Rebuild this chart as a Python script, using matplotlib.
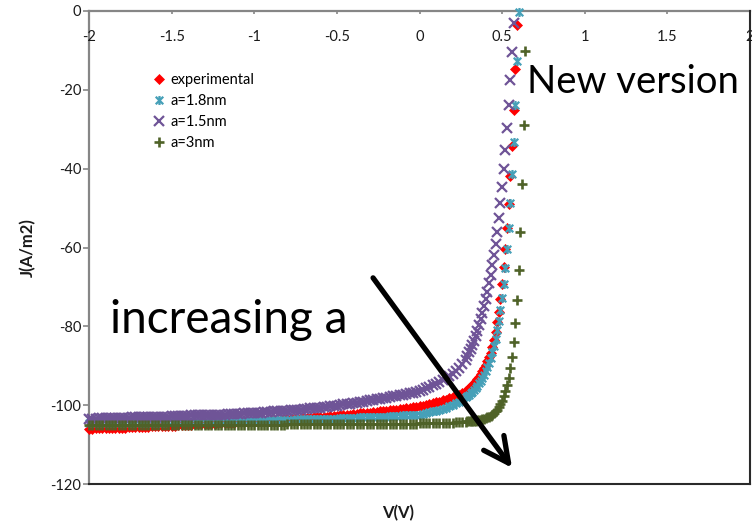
import matplotlib
matplotlib.use("Agg")
import matplotlib.pyplot as plt
from matplotlib.path import Path

plt.rcParams["font.family"] = ["Lato", "DejaVu Sans"]
plt.rcParams["axes.unicode_minus"] = False

# ---------------------------------------------------------------- data
# Reverse/forward sweep, -2.00 V to 0.28 V in 0.02 V steps
V_SWEEP = [
    -2.00, -1.98, -1.96, -1.94, -1.92, -1.90, -1.88, -1.86, -1.84, -1.82,
    -1.80, -1.78, -1.76, -1.74, -1.72, -1.70, -1.68, -1.66, -1.64, -1.62,
    -1.60, -1.58, -1.56, -1.54, -1.52, -1.50, -1.48, -1.46, -1.44, -1.42,
    -1.40, -1.38, -1.36, -1.34, -1.32, -1.30, -1.28, -1.26, -1.24, -1.22,
    -1.20, -1.18, -1.16, -1.14, -1.12, -1.10, -1.08, -1.06, -1.04, -1.02,
    -1.00, -0.98, -0.96, -0.94, -0.92, -0.90, -0.88, -0.86, -0.84, -0.82,
    -0.80, -0.78, -0.76, -0.74, -0.72, -0.70, -0.68, -0.66, -0.64, -0.62,
    -0.60, -0.58, -0.56, -0.54, -0.52, -0.50, -0.48, -0.46, -0.44, -0.42,
    -0.40, -0.38, -0.36, -0.34, -0.32, -0.30, -0.28, -0.26, -0.24, -0.22,
    -0.20, -0.18, -0.16, -0.14, -0.12, -0.10, -0.08, -0.06, -0.04, -0.02,
    0.00, 0.02, 0.04, 0.06, 0.08, 0.10, 0.12, 0.14, 0.16, 0.18,
    0.20, 0.22, 0.24, 0.26, 0.28,
]
# Finer 0.01 V steps through the knee towards open circuit
V_KNEE = [
    0.29, 0.30, 0.31, 0.32, 0.33, 0.34, 0.35, 0.36, 0.37, 0.38,
    0.39, 0.40, 0.41, 0.42, 0.43, 0.44, 0.45, 0.46, 0.47, 0.48,
    0.49, 0.50, 0.51, 0.52, 0.53, 0.54, 0.55, 0.56, 0.57, 0.58,
    0.59, 0.60, 0.61, 0.62, 0.63, 0.64,
]

# Current density J (A/m2), experimental
J_EXP_SWEEP = [
    -106.0, -106.0, -105.9, -105.9, -105.9, -105.8, -105.8, -105.8, -105.8, -105.7,
    -105.7, -105.7, -105.6, -105.6, -105.6, -105.5, -105.5, -105.5, -105.5, -105.4,
    -105.4, -105.4, -105.3, -105.3, -105.2, -105.2, -105.2, -105.1, -105.1, -105.0,
    -105.0, -105.0, -104.9, -104.9, -104.8, -104.8, -104.8, -104.7, -104.7, -104.6,
    -104.6, -104.5, -104.5, -104.4, -104.4, -104.3, -104.3, -104.2, -104.2, -104.1,
    -104.1, -104.0, -104.0, -103.9, -103.9, -103.8, -103.8, -103.7, -103.7, -103.6,
    -103.6, -103.5, -103.5, -103.4, -103.3, -103.3, -103.2, -103.2, -103.1, -103.1,
    -103.0, -102.9, -102.9, -102.8, -102.7, -102.7, -102.6, -102.5, -102.4, -102.4,
    -102.3, -102.2, -102.1, -102.0, -101.9, -101.9, -101.8, -101.7, -101.6, -101.5,
    -101.4, -101.3, -101.2, -101.1, -101.0, -100.9, -100.7, -100.6, -100.5, -100.4,
    -100.3, -100.1, -99.9, -99.7, -99.5, -99.3, -99.1, -98.8, -98.6, -98.3,
    -98.0, -97.7, -97.3, -96.9, -96.4,
]
J_EXP_KNEE = [
    -96.1, -95.7, -95.3, -94.9, -94.4, -93.9, -93.4, -92.8, -92.2, -91.4,
    -90.6, -89.8, -88.9, -87.9, -86.7, -85.2, -83.5, -81.4, -79.0, -76.3,
    -73.0, -69.3, -65.0, -60.5, -55.1, -48.9, -41.8, -34.2, -25.1, -14.7,
    -3.6,
]

# Simulation, a = 1.8 nm
J_18_SWEEP = [
    -104.6, -104.6, -104.6, -104.6, -104.6, -104.5, -104.5, -104.5, -104.5, -104.5,
    -104.5, -104.5, -104.5, -104.5, -104.5, -104.5, -104.4, -104.4, -104.4, -104.4,
    -104.4, -104.4, -104.4, -104.4, -104.3, -104.3, -104.3, -104.3, -104.3, -104.3,
    -104.3, -104.2, -104.2, -104.2, -104.2, -104.2, -104.2, -104.1, -104.1, -104.1,
    -104.1, -104.1, -104.0, -104.0, -104.0, -104.0, -104.0, -103.9, -103.9, -103.9,
    -103.9, -103.9, -103.9, -103.8, -103.8, -103.8, -103.8, -103.8, -103.7, -103.7,
    -103.7, -103.7, -103.7, -103.6, -103.6, -103.6, -103.6, -103.6, -103.5, -103.5,
    -103.5, -103.5, -103.4, -103.4, -103.4, -103.4, -103.3, -103.3, -103.3, -103.2,
    -103.2, -103.2, -103.1, -103.1, -103.1, -103.1, -103.0, -103.0, -103.0, -102.9,
    -102.9, -102.8, -102.8, -102.7, -102.7, -102.6, -102.6, -102.5, -102.5, -102.4,
    -102.4, -102.2, -102.0, -101.8, -101.6, -101.4, -101.1, -100.9, -100.6, -100.3,
    -99.9, -99.5, -99.1, -98.6, -98.0,
]
J_18_KNEE = [
    -97.7, -97.4, -97.0, -96.6, -96.1, -95.6, -95.1, -94.5, -93.8, -93.1,
    -92.3, -91.4, -90.4, -89.3, -88.0, -86.6, -85.0, -83.1, -81.0, -78.6,
    -75.9, -72.8, -69.2, -65.2, -60.5, -55.1, -48.8, -41.4, -33.2, -23.8,
    -12.7, -0.3,
]

# Simulation, a = 1.5 nm
J_15_SWEEP = [
    -103.4, -103.4, -103.4, -103.3, -103.3, -103.3, -103.3, -103.3, -103.2, -103.2,
    -103.2, -103.2, -103.2, -103.1, -103.1, -103.1, -103.1, -103.1, -103.0, -103.0,
    -103.0, -103.0, -102.9, -102.9, -102.9, -102.8, -102.8, -102.8, -102.7, -102.7,
    -102.7, -102.6, -102.6, -102.6, -102.6, -102.5, -102.5, -102.5, -102.4, -102.4,
    -102.4, -102.4, -102.3, -102.3, -102.2, -102.2, -102.2, -102.1, -102.1, -102.0,
    -102.0, -101.9, -101.9, -101.8, -101.8, -101.7, -101.6, -101.6, -101.5, -101.5,
    -101.4, -101.3, -101.2, -101.2, -101.1, -101.0, -100.9, -100.8, -100.8, -100.7,
    -100.6, -100.5, -100.4, -100.3, -100.2, -100.1, -100.0, -99.8, -99.7, -99.6,
    -99.5, -99.4, -99.2, -99.1, -98.9, -98.8, -98.7, -98.5, -98.4, -98.2,
    -98.1, -97.9, -97.8, -97.6, -97.4, -97.3, -97.1, -96.9, -96.8, -96.6,
    -96.4, -96.1, -95.7, -95.4, -95.0, -94.6, -94.2, -93.7, -93.2, -92.6,
    -92.0, -91.3, -90.5, -89.6, -88.5,
]
J_15_KNEE = [
    -87.6, -86.6, -85.7, -84.7, -83.6, -82.4, -81.1, -79.7, -78.2, -76.6,
    -74.9, -73.1, -71.2, -69.1, -66.9, -64.5, -61.9, -59.0, -56.0, -52.6,
    -48.8, -44.6, -40.2, -35.3, -29.6, -23.8, -17.5, -10.3, -3.1,
]

# Simulation, a = 3 nm
J_3_SWEEP = [
    -105.1, -105.1, -105.1, -105.1, -105.1, -105.1, -105.1, -105.1, -105.1, -105.1,
    -105.1, -105.1, -105.1, -105.1, -105.1, -105.1, -105.1, -105.1, -105.1, -105.1,
    -105.1, -105.1, -105.1, -105.1, -105.1, -105.1, -105.1, -105.1, -105.1, -105.1,
    -105.0, -105.0, -105.0, -105.0, -105.0, -105.0, -105.0, -105.0, -105.0, -105.0,
    -105.0, -105.0, -105.0, -105.0, -105.0, -105.0, -105.0, -105.0, -105.0, -105.0,
    -105.0, -105.0, -105.0, -105.0, -105.0, -105.0, -105.0, -105.0, -105.0, -105.0,
    -104.9, -104.9, -104.9, -104.9, -104.9, -104.9, -104.9, -104.9, -104.9, -104.9,
    -104.9, -104.9, -104.9, -104.9, -104.9, -104.9, -104.9, -104.9, -104.9, -104.9,
    -104.9, -104.9, -104.9, -104.9, -104.9, -104.8, -104.8, -104.8, -104.8, -104.8,
    -104.8, -104.8, -104.8, -104.7, -104.7, -104.7, -104.7, -104.7, -104.7, -104.7,
    -104.6, -104.6, -104.6, -104.6, -104.5, -104.5, -104.5, -104.5, -104.4, -104.4,
    -104.4, -104.3, -104.3, -104.2, -104.2,
]
J_3_KNEE = [
    -104.1, -104.1, -104.0, -104.0, -103.9, -103.9, -103.8, -103.8, -103.7, -103.6,
    -103.5, -103.3, -103.1, -102.9, -102.7, -102.4, -102.0, -101.6, -101.1, -100.5,
    -99.8, -98.9, -97.8, -96.5, -94.9, -93.0, -90.6, -87.7, -83.9, -79.1,
    -73.2, -65.6, -56.1, -44.0, -28.9, -10.1,
]

SERIES_LABELS = ["experimental", "a=1.8nm", "a=1.5nm", "a=3nm"]
XTICKS = [-2, -1.5, -1, -0.5, 0, 0.5, 1, 1.5, 2]
XTICK_LABELS = ["-2", "-1.5", "-1", "-0.5", "0", "0.5", "1", "1.5", "2"]
YTICKS = [-120, -100, -80, -60, -40, -20, 0]

# ---------------------------------------------------------------- styles
RED = "#FF0000"
AQUA = "#46A0B8"
PURPLE = "#6F5497"
OLIVE = "#4F6228"
AXIS_GREY = "#868686"
FRAME = "#2A2A2A"
INK = "#1A1A1A"

# asterisk-like marker: a cross with a vertical bar through it
STAR = Path(
    [(-1, -1), (1, 1), (-1, 1), (1, -1), (0, -1.2), (0, 1.2)],
    [Path.MOVETO, Path.LINETO, Path.MOVETO, Path.LINETO, Path.MOVETO, Path.LINETO],
)

fig = plt.figure(figsize=(7.52, 5.24), dpi=100)
ax = fig.add_axes([89 / 752, 1 - 484 / 524, (750 - 89) / 752, (484 - 11) / 524])


def curve(j_sweep, j_knee):
    v = V_SWEEP + V_KNEE[: len(j_knee)]
    return v, j_sweep + j_knee


v, j = curve(J_EXP_SWEEP, J_EXP_KNEE)
ax.plot(v, j, ls="none", marker="D", ms=5.2, mfc=RED, mec=RED, mew=0.5,
        label=SERIES_LABELS[0], clip_on=False, zorder=3)
v, j = curve(J_18_SWEEP, J_18_KNEE)
ax.plot(v, j, ls="none", marker=STAR, ms=6.5, mfc="none", mec=AQUA, mew=1.6,
        label=SERIES_LABELS[1], clip_on=False, zorder=4)
v, j = curve(J_15_SWEEP, J_15_KNEE)
ax.plot(v, j, ls="none", marker="x", ms=6.5, mec=PURPLE, mew=1.6,
        label=SERIES_LABELS[2], clip_on=False, zorder=5)
v, j = curve(J_3_SWEEP, J_3_KNEE)
ax.plot(v, j, ls="none", marker="+", ms=7.5, mec=OLIVE, mew=1.9,
        label=SERIES_LABELS[3], clip_on=False, zorder=6)

# ---------------------------------------------------------------- axes
ax.set_xlim(-2, 2)
ax.set_ylim(-120, 0)

for side in ("left", "top"):
    ax.spines[side].set_color(AXIS_GREY)
    ax.spines[side].set_linewidth(1.6)
    ax.spines[side].set_zorder(2)
for side in ("bottom", "right"):
    ax.spines[side].set_color(FRAME)
    ax.spines[side].set_linewidth(1.5)

ax.set_xticks(XTICKS)
ax.xaxis.tick_top()
ax.tick_params(axis="x", direction="in", length=2.5, width=1.2, color=AXIS_GREY,
               labeltop=False, labelbottom=False)
for xv, lbl in zip(XTICKS, XTICK_LABELS):
    ax.annotate(lbl, xy=(xv, 0), xycoords="data", xytext=(0, -26),
                textcoords="offset pixels", ha="center", va="center",
                fontsize=10.5, color=INK, annotation_clip=False)

ax.set_yticks(YTICKS)
ax.tick_params(axis="y", direction="out", length=4, width=1.2, color=AXIS_GREY,
               labelsize=10.5, labelcolor=INK, pad=1.5, right=False)

fig.text(28 / 752, 1 - 248 / 524, "J(A/m2)", rotation=90, fontsize=12,
         fontweight="bold", ha="center", va="center", color=INK)
fig.text(398 / 752, 1 - 513 / 524, "V(V)", fontsize=12, fontweight="bold",
         ha="center", va="center", color=INK)

leg = ax.legend(loc="upper left", bbox_to_anchor=(154 / 752, 1 - 73 / 524),
                bbox_transform=fig.transFigure, frameon=False, fontsize=10.5,
                handlelength=0.7, handletextpad=0.4, labelspacing=0.48,
                borderpad=0, borderaxespad=0)

# ---------------------------------------------------------------- annotations
ARROW_FROM = (-0.281, -67.7)
ARROW_TO = (0.560, -115.9)
ax.annotate("", xy=ARROW_TO, xytext=ARROW_FROM, xycoords="data",
            arrowprops=dict(arrowstyle="->,head_length=1.8,head_width=0.9",
                            lw=3.8, color="black", shrinkA=0, shrinkB=0,
                            mutation_scale=10),
            annotation_clip=False, zorder=8)

fig.text(110 / 752, 1 - 333 / 524, "increasing a", fontsize=33,
         ha="left", va="baseline", color="black", zorder=9)
fig.text(527 / 752, 1 - 93 / 524, "New version", fontsize=27.5,
         ha="left", va="baseline", color="black", zorder=9)

fig.savefig("out.png", dpi=100)
